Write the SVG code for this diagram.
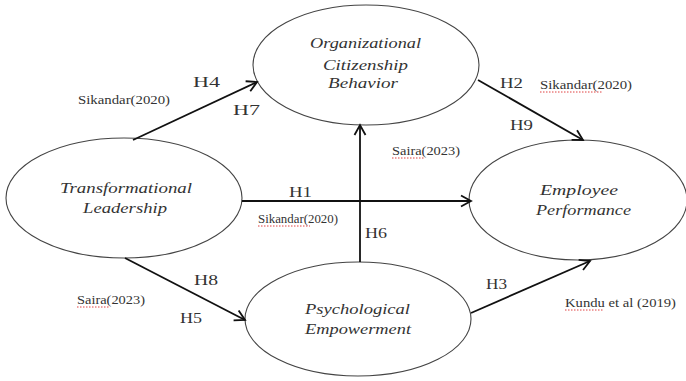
<svg xmlns="http://www.w3.org/2000/svg" width="686" height="381" viewBox="0 0 686 381">
<style>
.node ellipse{fill:#fff;stroke:#444;stroke-width:1.1}
.nt{font-family:'Liberation Serif','Times New Roman','DejaVu Serif',serif;font-style:italic;font-size:15.5px;fill:#333}
.h{font-family:'Liberation Serif','Times New Roman','DejaVu Serif',serif;font-size:14px;fill:#333}
.c{font-family:'Liberation Serif','Times New Roman','DejaVu Serif',serif;font-size:11.5px;fill:#333}
.conn line{stroke:#111;stroke-width:1.8;fill:none}
.sq{stroke:#e04040;stroke-width:1;stroke-dasharray:1.5,1.5}
</style>
<defs>
<marker id="ah" markerUnits="userSpaceOnUse" markerWidth="14" markerHeight="14" refX="11" refY="6" orient="auto" viewBox="0 0 14 12">
<path d="M1,0.5 L11,6 L1,11.5" fill="none" stroke="#111" stroke-width="1.8"/>
</marker>
</defs>
<rect width="686" height="381" fill="#fff"/>
<g id="ocb" class="node">
<ellipse cx="366" cy="65" rx="113" ry="60"/>
<text class="nt" x="310" y="48" textLength="111" lengthAdjust="spacingAndGlyphs">Organizational</text>
<text class="nt" x="323" y="70" textLength="85" lengthAdjust="spacingAndGlyphs">Citizenship</text>
<text class="nt" x="328" y="88" textLength="70" lengthAdjust="spacingAndGlyphs">Behavior</text>
</g>
<g id="tl" class="node">
<ellipse cx="124" cy="198" rx="118" ry="60"/>
<text class="nt" x="60" y="193" textLength="132" lengthAdjust="spacingAndGlyphs">Transformational</text>
<text class="nt" x="83" y="213" textLength="84" lengthAdjust="spacingAndGlyphs">Leadership</text>
</g>
<g id="ep" class="node">
<ellipse cx="578" cy="200" rx="109" ry="60"/>
<text class="nt" x="540" y="195" textLength="78" lengthAdjust="spacingAndGlyphs">Employee</text>
<text class="nt" x="536" y="215" textLength="95" lengthAdjust="spacingAndGlyphs">Performance</text>
</g>
<g id="pe" class="node">
<ellipse cx="358" cy="319" rx="113" ry="57"/>
<text class="nt" x="305" y="314" textLength="105" lengthAdjust="spacingAndGlyphs">Psychological</text>
<text class="nt" x="305" y="334" textLength="106" lengthAdjust="spacingAndGlyphs">Empowerment</text>
</g>
<g id="connectors" class="conn">
<line x1="133" y1="140" x2="257" y2="82" marker-end="url(#ah)"/>
<line x1="478" y1="80" x2="583" y2="140" marker-end="url(#ah)"/>
<line x1="242" y1="201" x2="471" y2="201" marker-end="url(#ah)"/>
<line x1="360" y1="262" x2="360" y2="125" marker-end="url(#ah)"/>
<line x1="125" y1="258" x2="245" y2="320" marker-end="url(#ah)"/>
<line x1="471" y1="313" x2="590" y2="261" marker-end="url(#ah)"/>
</g>
<g id="labels">
<text class="h" x="193" y="87" textLength="27" lengthAdjust="spacingAndGlyphs">H4</text>
<text class="h" x="233" y="115" textLength="27" lengthAdjust="spacingAndGlyphs">H7</text>
<text class="h" x="500" y="88" textLength="23" lengthAdjust="spacingAndGlyphs">H2</text>
<text class="h" x="510" y="130" textLength="23" lengthAdjust="spacingAndGlyphs">H9</text>
<text class="h" x="289" y="197" textLength="23" lengthAdjust="spacingAndGlyphs">H1</text>
<text class="h" x="365" y="238" textLength="22" lengthAdjust="spacingAndGlyphs">H6</text>
<text class="h" x="194" y="285" textLength="24" lengthAdjust="spacingAndGlyphs">H8</text>
<text class="h" x="180" y="323" textLength="22" lengthAdjust="spacingAndGlyphs">H5</text>
<text class="h" x="486" y="289" textLength="21" lengthAdjust="spacingAndGlyphs">H3</text>
<text class="c" x="78" y="104" textLength="92" lengthAdjust="spacingAndGlyphs">Sikandar(2020)</text>
<text class="c" x="540" y="89" textLength="92" lengthAdjust="spacingAndGlyphs">Sikandar(2020)</text>
<text class="c" x="392" y="155" textLength="68" lengthAdjust="spacingAndGlyphs">Saira(2023)</text>
<text class="c" x="258" y="223" textLength="80" lengthAdjust="spacingAndGlyphs">Sikandar(2020)</text>
<text class="c" x="77" y="304" textLength="68" lengthAdjust="spacingAndGlyphs">Saira(2023)</text>
<text class="c" x="565" y="307" textLength="111" lengthAdjust="spacingAndGlyphs">Kundu et al (2019)</text>
<line class="sq" x1="540" y1="92" x2="602" y2="92"/>
<line class="sq" x1="392" y1="158" x2="425" y2="158"/>
<line class="sq" x1="258" y1="226" x2="310" y2="226"/>
<line class="sq" x1="77" y1="307" x2="110" y2="307"/>
<line class="sq" x1="565" y1="310" x2="604" y2="310"/>
</g>
</svg>
